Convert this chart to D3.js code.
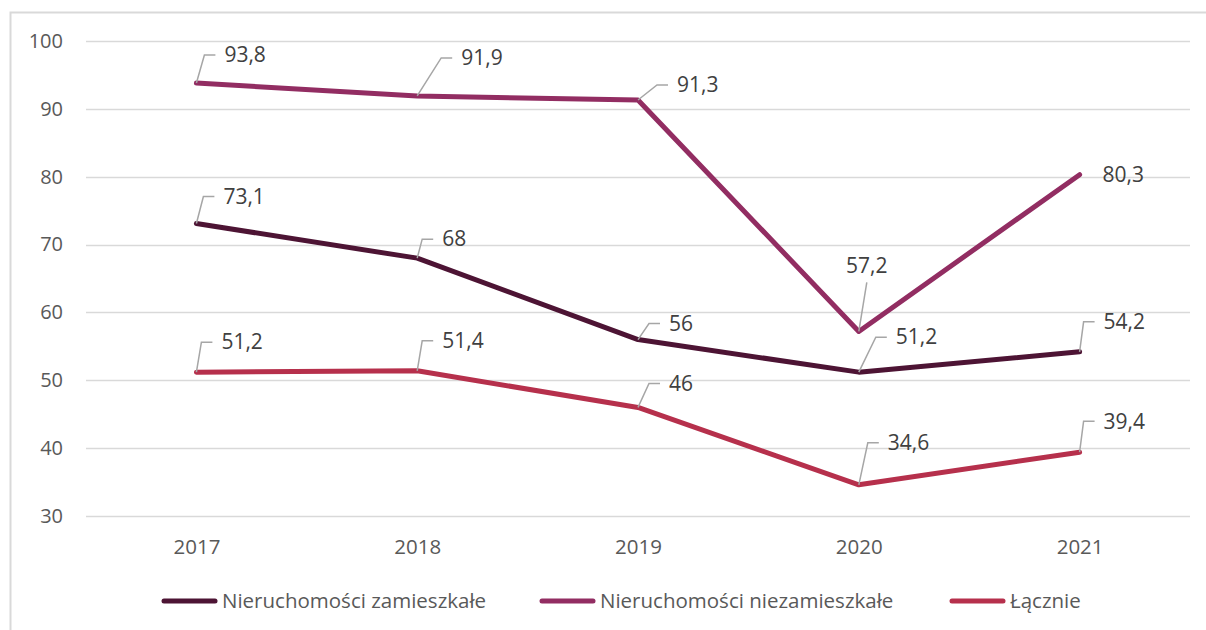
<!DOCTYPE html>
<html>
<head>
<meta charset="utf-8">
<script src="https://d3js.org/d3.v7.min.js"></script>
<style>
  body { margin: 0; background: #fff; }
  text { font-family: "Open Sans", sans-serif; }
</style>
</head>
<body>
<div id="cont"></div>
<script>
// data
var years = ["2017", "2018", "2019", "2020", "2021"];
var zamieszkale = [73.1, 68, 56, 51.2, 54.2];
var niezamieszkale = [93.8, 91.9, 91.3, 57.2, 80.3];
var lacznie = [51.2, 51.4, 46, 34.6, 39.4];
var seriesNames = ["Nieruchomości zamieszkałe", "Nieruchomości niezamieszkałe", "Łącznie"];
var yTicks = [30, 40, 50, 60, 70, 80, 90, 100];

// label placement: [dx to text left, dy to text middle, leader type]
// "elbow" = slanted + short horizontal, "up" = straight up to centred label, "none" = beside point
var labelPos = [
    [[27, -27, "elbow"], [25, -19, "elbow"], [31, -16, "elbow"], [37, -35, "elbow"], [24, -30, "elbow"]],
    [[28, -28, "elbow"], [44, -38, "elbow"], [39, -15, "elbow"], [8, -66, "up"], [23, 0, "none"]],
    [[25, -30, "elbow"], [25, -30, "elbow"], [31, -24, "elbow"], [29, -42, "elbow"], [24, -31, "elbow"]]
];

var colors = ["#4d1434", "#922d62", "#b6304c"];
var series = [zamieszkale, niezamieszkale, lacznie];

var W = 1206, H = 630;
var svg = d3.select("#cont").append("svg")
    .attr("width", W)
    .attr("height", H);

// chart frame (cut by the page edge)
svg.append("rect")
    .attr("x", 10.5).attr("y", 12.5)
    .attr("width", W + 20).attr("height", H + 20)
    .attr("fill", "none")
    .attr("stroke", "#d9d9d9")
    .attr("stroke-width", 2);

var x = d3.scalePoint().domain(years).range([86, 1190]).padding(0.5);
var y = d3.scaleLinear().domain([30, 100]).range([516, 41]);

// gridlines
svg.append("g").selectAll("line")
    .data(yTicks)
    .enter().append("line")
    .attr("x1", 86).attr("x2", 1190)
    .attr("y1", function (d) { return Math.round(y(d)) + 0.5; })
    .attr("y2", function (d) { return Math.round(y(d)) + 0.5; })
    .attr("stroke", "#d9d9d9")
    .attr("stroke-width", 1.5);

// y axis
var yAxis = svg.append("g")
    .attr("transform", "translate(63,0)")
    .call(d3.axisLeft(y).tickValues(yTicks).tickSize(0).tickPadding(0));
yAxis.select(".domain").remove();
yAxis.selectAll("text")
    .attr("fill", "#595959")
    .style("font-size", "20px");

// x axis
var xAxis = svg.append("g")
    .attr("transform", "translate(0,535)")
    .call(d3.axisBottom(x).tickSize(0).tickPadding(0));
xAxis.select(".domain").remove();
xAxis.selectAll("text")
    .attr("fill", "#595959")
    .style("font-size", "20.5px")
    .attr("dy", "0.95em");

var line = d3.line()
    .x(function (d, i) { return x(years[i]); })
    .y(function (d) { return y(d); });

var fmt = function (v) { return String(v).replace(".", ","); };

series.forEach(function (vals, s) {
    svg.append("path")
        .datum(vals)
        .attr("d", line)
        .attr("fill", "none")
        .attr("stroke", colors[s])
        .attr("stroke-width", 5)
        .attr("stroke-linejoin", "round")
        .attr("stroke-linecap", "round");
});

// data labels with leader lines
series.forEach(function (vals, s) {
    var g = svg.append("g");
    vals.forEach(function (v, i) {
        var px = x(years[i]), py = y(v);
        var p = labelPos[s][i];
        var tx = px + p[0], ty = py + p[1];
        if (p[2] === "elbow") {
            g.append("polyline")
                .attr("points", [[px, py], [tx - 20, ty], [tx - 9, ty]].map(function (q) { return q.join(","); }).join(" "))
                .attr("fill", "none")
                .attr("stroke", "#a6a6a6")
                .attr("stroke-width", 1.5);
        } else if (p[2] === "up") {
            g.append("line")
                .attr("x1", px).attr("y1", py)
                .attr("x2", tx).attr("y2", ty + 17)
                .attr("stroke", "#a6a6a6")
                .attr("stroke-width", 1.5);
        }
        g.append("text")
            .attr("x", tx)
            .attr("y", ty)
            .attr("dy", "0.35em")
            .attr("text-anchor", p[2] === "up" ? "middle" : "start")
            .attr("fill", "#404040")
            .style("font-size", "21px")
            .text(fmt(v));
    });
});

// legend
var legendX = [164, 542, 952];
var legend = svg.append("g");
seriesNames.forEach(function (name, s) {
    legend.append("line")
        .attr("x1", legendX[s]).attr("x2", legendX[s] + 51)
        .attr("y1", 601).attr("y2", 601)
        .attr("stroke", colors[s])
        .attr("stroke-width", 5)
        .attr("stroke-linecap", "round");
    legend.append("text")
        .attr("x", legendX[s] + 58)
        .attr("y", 601)
        .attr("dy", "0.35em")
        .attr("fill", "#595959")
        .style("font-size", "20.5px")
        .text(name);
});
</script>
</body>
</html>
